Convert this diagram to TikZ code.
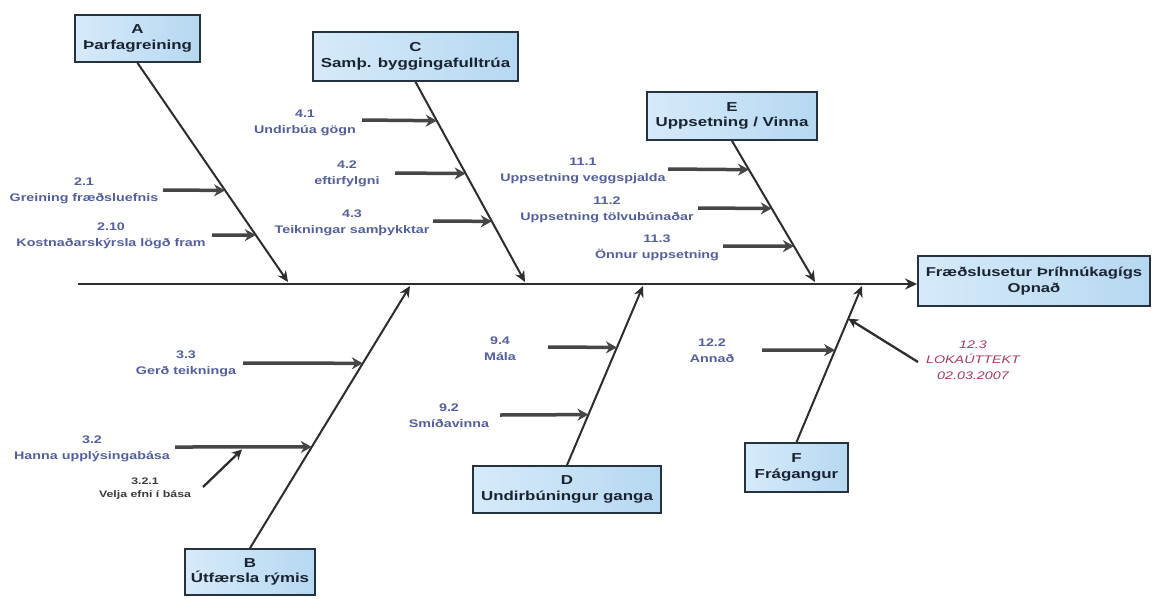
\documentclass[tikz,border=0pt]{standalone}
\usepackage{fontspec}
\setmainfont{Liberation Sans}
\newfontfamily\boxfont[FakeStretch=1.3]{Liberation Sans}
\newfontfamily\labfont[FakeStretch=1.3]{Liberation Sans}
\usetikzlibrary{arrows.meta,calc}
\definecolor{boxline}{RGB}{38,50,62}
\definecolor{boxL}{RGB}{214,234,250}
\definecolor{boxR}{RGB}{182,216,241}
\definecolor{boxtext}{RGB}{25,35,50}
\definecolor{labc}{RGB}{84,96,158}
\definecolor{subc}{RGB}{60,60,60}
\definecolor{redc}{RGB}{168,58,92}
\definecolor{linec}{RGB}{45,45,45}
\definecolor{subline}{RGB}{70,70,70}
\tikzset{
  cat/.style={draw=boxline, line width=1.8pt, left color=boxL, right color=boxR,
    font=\boxfont\bfseries\fontsize{13}{15.5}\selectfont, text=boxtext,
    align=center, inner sep=0pt},
  lab/.style={font=\labfont\bfseries\fontsize{11}{16}\selectfont, text=labc,
    align=center, inner sep=0pt},
  smalllab/.style={font=\labfont\bfseries\fontsize{9.5}{13}\selectfont, text=subc,
    align=center, inner sep=0pt},
  redlab/.style={font=\labfont\itshape\fontsize{11}{15.5}\selectfont, text=redc,
    align=center, inner sep=0pt},
  spine/.style={draw=linec, line width=2.6pt, -{Stealth[length=12pt,width=11pt]}},
  bone/.style={draw=linec, line width=2pt, -{Stealth[length=11pt,width=10pt]}},
  sub/.style={draw=subline, line width=3.5pt, -{Stealth[length=11pt,width=12pt]}},
  thinsub/.style={draw=linec, line width=2.3pt, -{Stealth[length=10pt,width=10pt]}}
}
\begin{document}
\begin{tikzpicture}[x=1pt,y=-1pt]
\useasboundingbox[fill=white] (0,0) rectangle (1154,598);

% category boxes
\node[cat, minimum width=125, minimum height=47] (A) at (137.5,38.5) {A\\Þarfagreining};
\node[cat, minimum width=205, minimum height=49] (C) at (415.5,56.5) {C\\Samþ. byggingafulltrúa};
\node[cat, minimum width=170, minimum height=48] (E) at (732,116) {E\\Uppsetning / Vinna};
\node[cat, minimum width=232, minimum height=50, font=\boxfont\bfseries\fontsize{12.8}{15.5}\selectfont] (H) at (1034,281) {Fræðslusetur Þríhnúkagígs\\Opnað};
\node[cat, minimum width=130, minimum height=46] (B) at (250,572) {B\\Útfærsla rýmis};
\node[cat, minimum width=188, minimum height=47] (D) at (567,489.5) {D\\Undirbúningur ganga};
\node[cat, minimum width=103, minimum height=49] (F) at (796.5,467.5) {F\\Frágangur};

% spine
\coordinate (spL) at (78,284);
\draw[spine] (spL) -- (spL -| H.west);

% bone end points on spine
\coordinate (sA) at (288,282);
\coordinate (sC) at (525,282);
\coordinate (sE) at (815,282);
\coordinate (sB) at (410,286);
\coordinate (sD) at (643,286);
\coordinate (sF) at (862,286);

\draw[bone] (A.south) -- (sA);
\draw[bone] (C.south) -- (sC);
\draw[bone] (E.south) -- (sE);
\draw[bone] (B.north) -- (sB);
\draw[bone] (D.north) -- (sD);
\draw[bone] (F.north) -- (sF);

% points on bones
\path (A.south) -- (sA) coordinate[pos=0.582] (tA1) coordinate[pos=0.786] (tA2);
\path (C.south) -- (sC) coordinate[pos=0.194] (tC1) coordinate[pos=0.458] (tC2) coordinate[pos=0.697] (tC3);
\path (E.south) -- (sE) coordinate[pos=0.204] (tE1) coordinate[pos=0.479] (tE2) coordinate[pos=0.746] (tE3);
\path (B.north) -- (sB) coordinate[pos=0.705] (tB1) coordinate[pos=0.386] (tB2);
\path (D.north) -- (sD) coordinate[pos=0.657] (tD1) coordinate[pos=0.282] (tD2);
\path (F.north) -- (sF) coordinate[pos=0.589] (tF1) coordinate[pos=0.791] (tF2);

% sub-arrow start points
\coordinate (a21) at (163,190);
\coordinate (a210) at (212,235);
\coordinate (a41) at (362,120);
\coordinate (a42) at (395,173);
\coordinate (a43) at (433,221);
\coordinate (a111) at (668,169);
\coordinate (a112) at (698,208);
\coordinate (a113) at (723,246);
\coordinate (a33) at (243,363);
\coordinate (a32) at (175,447);
\coordinate (a321) at (203,487);
\coordinate (a94) at (548,347);
\coordinate (a92) at (500,415);
\coordinate (a122) at (762,350);
\coordinate (a123) at (918,362);

\path (a32) -- (tB2) coordinate[pos=0.49] (t32mid);

\draw[sub] (a21) -- (tA1);
\draw[sub] (a210) -- (tA2);
\draw[sub] (a41) -- (tC1);
\draw[sub] (a42) -- (tC2);
\draw[sub] (a43) -- (tC3);
\draw[sub] (a111) -- (tE1);
\draw[sub] (a112) -- (tE2);
\draw[sub] (a113) -- (tE3);
\draw[sub] (a33) -- (tB1);
\draw[sub] (a32) -- (tB2);
\draw[thinsub] (a321) -- ([yshift=-2.5pt]t32mid);
\draw[sub] (a94) -- (tD1);
\draw[sub] (a92) -- (tD2);
\draw[sub] (a122) -- (tF1);
\draw[thinsub] (a123) -- (tF2);

% labels
\node[lab] (l21) at (84,191) {2.1\\Greining fræðsluefnis};
\node[lab] (l210) at (111,235.5) {2.10\\Kostnaðarskýrsla lögð fram};
\node[lab] (l41) at (305,122.5) {4.1\\Undirbúa gögn};
\node[lab] (l42) at (347,174) {4.2\\eftirfylgni};
\node[lab] (l43) at (352,222.5) {4.3\\Teikningar samþykktar};
\node[lab] (l111) at (583,171) {11.1\\Uppsetning veggspjalda};
\node[lab] (l112) at (607,210) {11.2\\Uppsetning tölvubúnaðar};
\node[lab] (l113) at (657,248) {11.3\\Önnur uppsetning};
\node[lab] (l33) at (186,364) {3.3\\Gerð teikninga};
\node[lab] (l32) at (92,448.5) {3.2\\Hanna upplýsingabása};
\node[smalllab] (l321) at (145,488.5) {3.2.1\\Velja efni í bása};
\node[lab] (l94) at (500,348.5) {9.4\\Mála};
\node[lab] (l92) at (449,416) {9.2\\Smíðavinna};
\node[lab] (l122) at (712,350.5) {12.2\\Annað};
\node[redlab] (l123) at (973,360) {12.3\\LOKAÚTTEKT\\02.03.2007};
\end{tikzpicture}
\end{document}
